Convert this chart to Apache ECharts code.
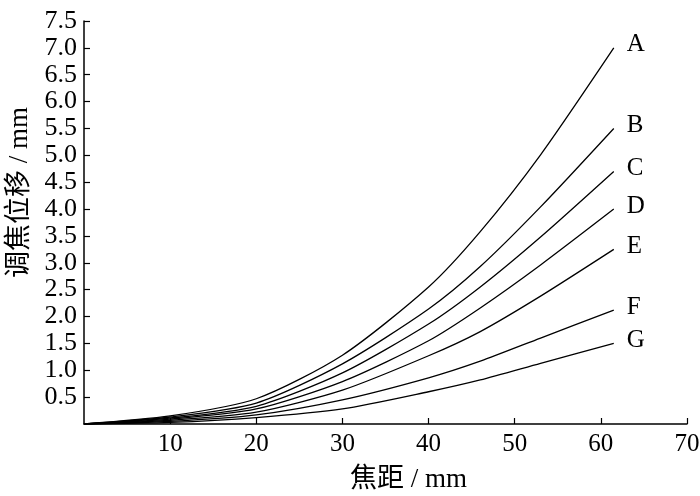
<!DOCTYPE html>
<html>
<head>
<meta charset="utf-8">
<script src="https://cdn.jsdelivr.net/npm/echarts@6/dist/echarts.min.js"></script>
<style>html,body{margin:0;padding:0;background:#fff;}#c{width:700px;height:496px;}</style>
</head>
<body>
<div id="c"></div>
<script>
const focal = [0, 10, 20, 30, 40, 46, 53, 61.5];
const seriesNames = ['A', 'B', 'C', 'D', 'E', 'F', 'G'];
const valuesA = [0, 0.15, 0.47, 1.28, 2.55, 3.58, 5.01, 7.0];
const valuesB = [0, 0.13, 0.39, 1.12, 2.14, 2.93, 4.04, 5.5];
const valuesC = [0, 0.11, 0.33, 0.95, 1.86, 2.55, 3.48, 4.7];
const valuesD = [0, 0.09, 0.28, 0.79, 1.55, 2.16, 2.96, 4.0];
const valuesE = [0, 0.07, 0.22, 0.63, 1.27, 1.72, 2.38, 3.25];
const valuesF = [0, 0.05, 0.17, 0.45, 0.86, 1.17, 1.60, 2.12];
const valuesG = [0, 0.03, 0.12, 0.28, 0.60, 0.82, 1.13, 1.5];
const allValues = [valuesA, valuesB, valuesC, valuesD, valuesE, valuesF, valuesG];

const FONT = '"Liberation Serif", "Noto Sans CJK SC", serif';
const chart = echarts.init(document.getElementById('c'));
chart.setOption({
  backgroundColor: '#fff',
  animation: false,
  grid: { left: 84, right: 13, top: 21, bottom: 72, containLabel: false, outerBoundsMode: 'none' },
  xAxis: {
    type: 'value', min: 0, max: 70, interval: 10,
    name: '焦距 / mm', nameLocation: 'middle', nameGap: 42,
    nameTextStyle: { fontFamily: FONT, fontSize: 27, color: '#000', padding: [0, 0, 0, 46] },
    axisLine: { lineStyle: { color: '#000', width: 1.5 } },
    axisTick: { inside: true, length: 6, lineStyle: { color: '#000', width: 1.2 } },
    axisLabel: { showMinLabel: false, fontFamily: FONT, fontSize: 25, color: '#000', margin: 8 },
    splitLine: { show: false }
  },
  yAxis: {
    type: 'value', min: 0, max: 7.5, interval: 0.5,
    axisLine: { show: true, lineStyle: { color: '#000', width: 1.5 } },
    axisTick: { show: true, inside: true, length: 6, lineStyle: { color: '#000', width: 1.2 } },
    axisLabel: { showMinLabel: false, fontFamily: FONT, fontSize: 26, color: '#000', margin: 7,
      formatter: v => v.toFixed(1) },
    splitLine: { show: false }
  },
  graphic: [{
    type: 'text', left: 6, top: 107, rotation: Math.PI / 2,
    style: { text: '调焦位移 / mm', font: '27px ' + FONT, fill: '#000' },
    originX: 0, originY: 0
  }],
  series: allValues.map((vals, i) => ({
    name: seriesNames[i], type: 'line', smooth: 0.25, symbol: 'none',
    lineStyle: { color: '#000', width: 1.3 },
    data: vals.map((v, j) => [focal[j], v]),
    endLabel: { show: true, formatter: '{a}', distance: 13, offset: [0, -3],
      fontFamily: FONT, fontSize: 25, color: '#000' }
  }))
});
</script>
</body>
</html>
